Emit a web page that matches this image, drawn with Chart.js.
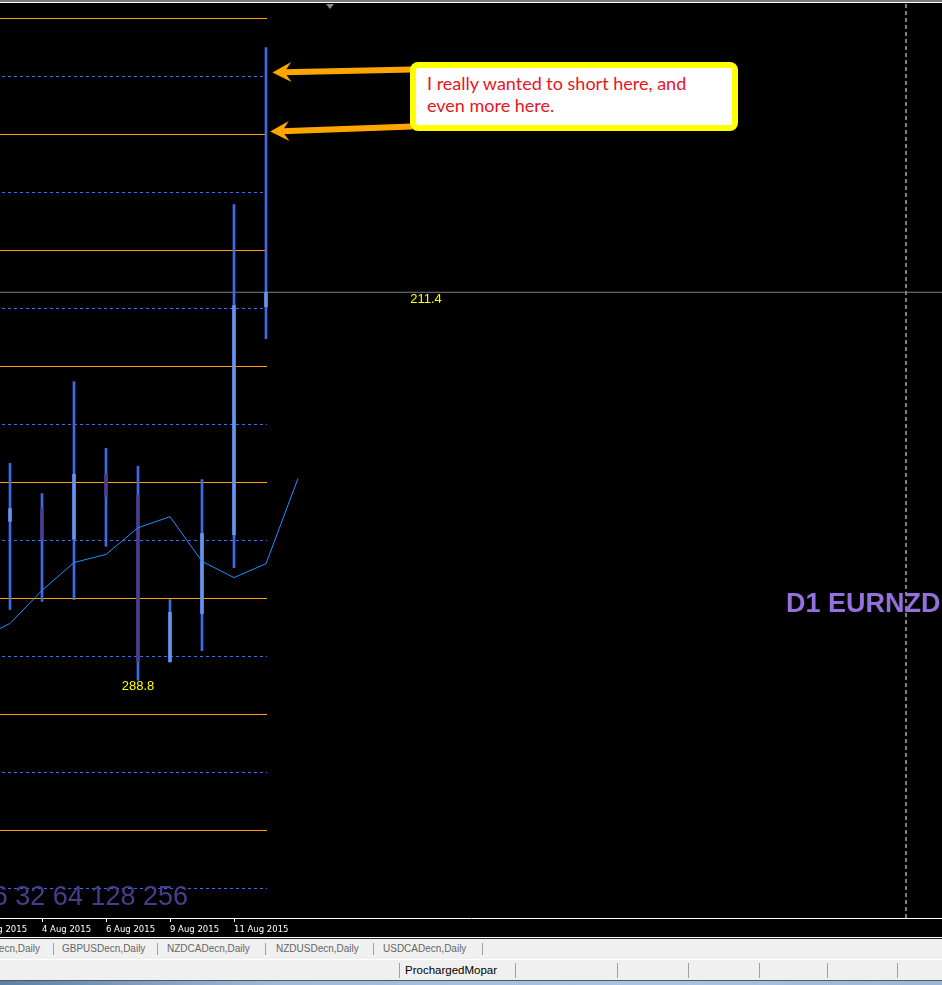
<!DOCTYPE html>
<html>
<head>
<meta charset="utf-8">
<script src="https://cdn.jsdelivr.net/npm/chart.js@4.4.0/dist/chart.umd.min.js"></script>
<style>
    body { margin: 0; width: 942px; height: 985px; background: #000; position: relative; overflow: hidden; font-family: "Liberation Sans", Arial, sans-serif; }
    .abs { position: absolute; }
    #topbar { left: 0; top: 0; width: 942px; height: 2px; background: #7a7a7a; }
    #topline { left: 0; top: 2px; width: 942px; height: 1px; background: #fff; }
    #chart-wrap { left: 0; top: 4px; width: 942px; height: 933px; }
    #shift-mark { left: 326px; top: 4px; width: 0; height: 0; border-left: 4.5px solid transparent; border-right: 4.5px solid transparent; border-top: 5px solid #8a8a8a; }
    .callout { left: 410px; top: 62px; width: 328px; height: 69px; box-sizing: border-box; border: 6px solid #ffff00; border-radius: 8px; background: #fff;
               padding: 4px 0 0 11px; color: #e8141e; font-family: Lato, "Open Sans", sans-serif; font-size: 18px; line-height: 22px; z-index: 2; }
    #axis-under { left: 0; top: 937px; width: 942px; height: 1px; background: #fff; }
    #axis-under2 { left: 0; top: 938px; width: 942px; height: 1px; background: #222; }
    #tabs { left: 0; top: 939px; width: 942px; height: 20px; background: #f0f0f0; border-bottom: 1px solid #fff; }
    #status { left: 0; top: 960px; width: 942px; height: 20px; background: #f0f0f0; border-bottom: 1px solid #4d5a66; }
    #taskbar { left: 0; top: 981px; width: 942px; height: 4px; background: linear-gradient(90deg, #5f7fa8, #9fbbd8 30%, #a8c4e0 70%, #9ab6d4); }
    .tab { top: 0; height: 19px; line-height: 19px; font-size: 10px; color: #666; white-space: nowrap; }
    .sep { width: 1px; background: #a0a0a0; }
    #tabs .sep { top: 4px; height: 12px; }
    #status .sep { top: 3px; height: 15px; }
    .stxt { top: 0; height: 20px; line-height: 21px; font-size: 11.5px; color: #000; white-space: nowrap; }
</style>
</head>
<body>
<div id="topbar" class="abs"></div>
<div id="topline" class="abs"></div>
<div id="chart-wrap" class="abs"><canvas id="chart"></canvas></div>
<div id="shift-mark" class="abs"></div>
<div class="callout abs">I really wanted to short here, and<br>even more here.</div>
<div id="axis-under" class="abs"></div>
<div id="axis-under2" class="abs"></div>
<div id="tabs" class="abs">
    <div class="tab abs" style="right:902px">EURNZDecn,Daily</div>
    <div class="sep abs" style="left:53px"></div>
    <div class="tab abs" style="left:62px">GBPUSDecn,Daily</div>
    <div class="sep abs" style="left:157px"></div>
    <div class="tab abs" style="left:167px">NZDCADecn,Daily</div>
    <div class="sep abs" style="left:265px"></div>
    <div class="tab abs" style="left:276px">NZDUSDecn,Daily</div>
    <div class="sep abs" style="left:373px"></div>
    <div class="tab abs" style="left:383px">USDCADecn,Daily</div>
    <div class="sep abs" style="left:482px"></div>
</div>
<div id="status" class="abs">
    <div class="sep abs" style="left:399px"></div>
    <div class="stxt abs" style="left:405px">ProchargedMopar</div>
    <div class="sep abs" style="left:515px"></div>
    <div class="sep abs" style="left:617px"></div>
    <div class="sep abs" style="left:688px"></div>
    <div class="sep abs" style="left:759px"></div>
    <div class="sep abs" style="left:827px"></div>
    <div class="sep abs" style="left:897px"></div>
</div>
<div id="taskbar" class="abs"></div>

<script>
// candles: index 0 = 3 Aug 2015
const candleIdx = [0, 1, 2, 3, 4, 5, 6, 7, 8];
const openP  = [1.6533, 1.6555, 1.6502, 1.6614, 1.6578, 1.6291, 1.6374, 1.6510, 1.6903];
const highP  = [1.6633, 1.6581, 1.6774, 1.6659, 1.6628, 1.6398, 1.6605, 1.7079, 1.7350];
const lowP   = [1.6381, 1.6395, 1.6398, 1.6490, 1.6259, 1.6290, 1.6310, 1.6453, 1.6848];
const closeP = [1.6555, 1.6502, 1.6614, 1.6576, 1.6291, 1.6376, 1.6512, 1.6905, 1.6928];

// moving average (shifted one bar forward)
const maIdx  = [-1, 0, 1, 2, 3, 4, 5, 6, 7, 8, 9];
const maVals = [1.6329, 1.6357, 1.6414, 1.6462, 1.6476, 1.6522, 1.6541, 1.6464, 1.6436, 1.6460, 1.6607];

// level lines
const orangeLevels = [1.74, 1.72, 1.70, 1.68, 1.66, 1.64, 1.62, 1.60];
const blueLevels   = [1.73, 1.71, 1.69, 1.67, 1.65, 1.63, 1.61, 1.59];
const levelSpan = [-1, 8.03];
const currentPrice = 1.6928;
const separatorIdx = 28;

// time axis
const tickIdx = [-1, 1, 3, 5, 7];
const tickLabels = ['2 Aug 2015', '4 Aug 2015', '6 Aug 2015', '9 Aug 2015', '11 Aug 2015'];

// chart texts
const priceLabels = [
    { text: '211.4', x: 13, y: 1.6915 },
    { text: '288.8', x: 4, y: 1.6249 }
];
const arrowTails = [[12.56, 1.7312], [12.56, 1.7214]];
const arrowTips  = [[8.2, 1.7307], [8.13, 1.7205]];
const symbolText = 'D1 EURNZD';
const seriesText = '1 2 4 8 16 32 64 128 256';

const xMin = -0.3125, xMax = 29.125;
const yMin = 1.58491, yMax = 1.7425;

const BULL = '#6495ED', BEAR = '#483D8B', WICK = '#4169E1';

const datasets = [];

datasets.push({
    type: 'line', order: 0,
    data: maIdx.map((x, i) => ({ x, y: maVals[i] })),
    borderColor: '#1E90FF', borderWidth: 1, pointRadius: 0, tension: 0
});
datasets.push({
    type: 'bar', order: 1, grouped: false, barThickness: 3,
    data: candleIdx.map((x, i) => ({ x, y: [openP[i], closeP[i]] })),
    backgroundColor: candleIdx.map((x, i) => closeP[i] >= openP[i] ? BULL : BEAR),
    borderWidth: 0
});
datasets.push({
    type: 'bar', order: 2, grouped: false, barThickness: 2,
    data: candleIdx.map((x, i) => ({ x, y: [lowP[i], highP[i]] })),
    backgroundColor: WICK, borderWidth: 0
});
orangeLevels.forEach(v => datasets.push({
    type: 'line', order: 5,
    data: levelSpan.map(x => ({ x, y: v })),
    borderColor: '#FFA500', borderWidth: 1, pointRadius: 0
}));
blueLevels.forEach(v => datasets.push({
    type: 'line', order: 5,
    data: levelSpan.map(x => ({ x, y: v })),
    borderColor: '#3D6BFF', borderWidth: 1, borderDash: [3, 3], pointRadius: 0
}));
datasets.push({
    type: 'line', order: 6,
    data: [{ x: -1, y: currentPrice }, { x: 30, y: currentPrice }],
    borderColor: '#808080', borderWidth: 1, pointRadius: 0
});
datasets.push({
    type: 'line', order: 6,
    data: [{ x: separatorIdx, y: yMax }, { x: separatorIdx, y: yMin }],
    borderColor: '#ffffff', borderWidth: 1, borderDash: [4, 3], pointRadius: 0
});

const drawArrow = (ctx, x0, y0, x1, y1) => {
    const len = Math.hypot(x1 - x0, y1 - y0);
    const ux = (x1 - x0) / len, uy = (y1 - y0) / len;
    const nx = -uy, ny = ux;
    const notchX = x1 - ux * 12, notchY = y1 - uy * 12;
    ctx.strokeStyle = '#FFA500';
    ctx.fillStyle = '#FFA500';
    ctx.lineWidth = 6;
    ctx.beginPath();
    ctx.moveTo(x0, y0);
    ctx.lineTo(notchX, notchY);
    ctx.stroke();
    ctx.beginPath();
    ctx.moveTo(x1, y1);
    ctx.lineTo(x1 - ux * 19 + nx * 10, y1 - uy * 19 + ny * 10);
    ctx.lineTo(notchX, notchY);
    ctx.lineTo(x1 - ux * 19 - nx * 10, y1 - uy * 19 - ny * 10);
    ctx.closePath();
    ctx.fill();
};

const overlayPlugin = {
    id: 'overlay',
    afterDatasetsDraw(chart) {
        const { ctx, scales: { x, y } } = chart;
        ctx.save();
        arrowTails.forEach((tail, i) => {
            const tip = arrowTips[i];
            drawArrow(ctx, x.getPixelForValue(tail[0]), y.getPixelForValue(tail[1]),
                x.getPixelForValue(tip[0]), y.getPixelForValue(tip[1]));
        });

        ctx.font = '13px "Liberation Sans", Arial';
        ctx.fillStyle = '#FFFF00';
        ctx.textAlign = 'center';
        ctx.textBaseline = 'middle';
        priceLabels.forEach(l => ctx.fillText(l.text, x.getPixelForValue(l.x), y.getPixelForValue(l.y)));

        ctx.textBaseline = 'alphabetic';
        ctx.textAlign = 'left';
        ctx.font = 'bold 27px "Liberation Sans", Arial';
        ctx.fillStyle = '#9370DB';
        ctx.fillText(symbolText, 786, 608);

        ctx.textAlign = 'right';
        ctx.font = '27px "Liberation Sans", Arial';
        ctx.fillStyle = '#483D8B';
        ctx.fillText(seriesText, 188, 901);
        ctx.restore();
    }
};

new Chart(document.getElementById('chart'), {
    type: 'line',
    data: { datasets },
    plugins: [overlayPlugin],
    options: {
        responsive: true,
        maintainAspectRatio: false,
        animation: false,
        events: [],
        layout: { padding: 0, autoPadding: false },
        plugins: { legend: { display: false }, tooltip: { enabled: false } },
        scales: {
            x: {
                type: 'linear', min: xMin, max: xMax, bounds: 'data', offset: false,
                afterBuildTicks: axis => { axis.ticks = tickIdx.map(v => ({ value: v })); },
                // the first date sits left of the visible area; keep the plot flush to the edge
                afterFit: axis => { axis.paddingLeft = 0; axis.paddingRight = 0; },
                ticks: {
                    autoSkip: false, maxRotation: 0, align: 'start', color: '#fff', padding: 3,
                    font: { family: 'DejaVu Sans', size: 8.5, lineHeight: '9px' },
                    callback: v => { const k = tickIdx.indexOf(v); return k >= 0 ? tickLabels[k] : ''; }
                },
                grid: { display: true, drawOnChartArea: false, drawTicks: true, tickLength: 4, color: '#fff', offset: false },
                border: { display: true, color: '#fff', width: 1 }
            },
            y: { type: 'linear', display: false, min: yMin, max: yMax, bounds: 'data' }
        }
    }
});
</script>
</body>
</html>
